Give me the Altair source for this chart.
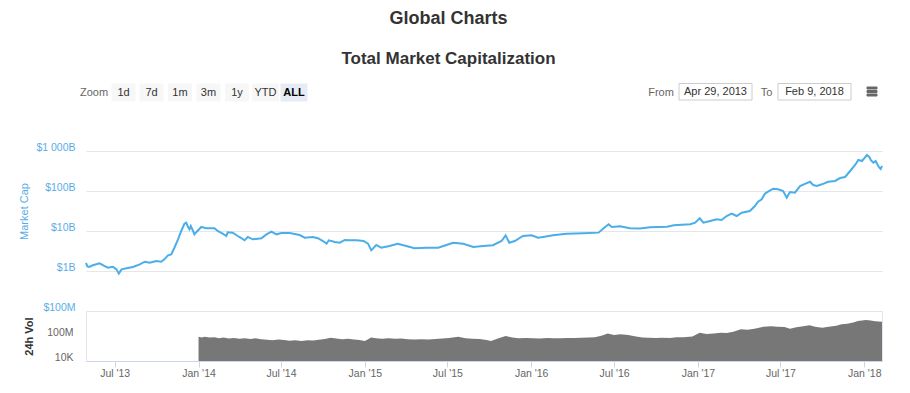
import altair as alt
import pandas as pd

FONT = "Liberation Sans"

# ---- Total market capitalization ($ billions) ----
mc_dates = [
    "2013-04-29", "2013-05-02", "2013-05-06", "2013-05-14", "2013-05-29", "2013-06-09", "2013-06-16",
    "2013-06-27", "2013-07-05", "2013-07-10", "2013-07-16", "2013-07-27", "2013-08-10", "2013-08-25",
    "2013-09-05", "2013-09-16", "2013-09-30", "2013-10-11", "2013-10-18", "2013-10-26", "2013-11-02",
    "2013-11-09", "2013-11-17", "2013-11-24", "2013-12-01", "2013-12-05", "2013-12-09", "2013-12-12",
    "2013-12-15", "2013-12-20", "2013-12-23", "2013-12-28", "2014-01-07", "2014-01-18", "2014-02-05",
    "2014-02-12", "2014-02-23", "2014-03-03", "2014-03-06", "2014-03-17", "2014-03-28", "2014-04-05",
    "2014-04-12", "2014-04-19", "2014-04-30", "2014-05-19", "2014-05-30", "2014-06-10", "2014-06-21",
    "2014-07-02", "2014-07-20", "2014-08-11", "2014-08-22", "2014-09-09", "2014-09-20", "2014-10-01",
    "2014-10-09", "2014-10-14", "2014-10-27", "2014-11-07", "2014-11-18", "2014-11-29", "2014-12-14",
    "2014-12-29", "2015-01-08", "2015-01-15", "2015-01-26", "2015-02-06", "2015-02-24", "2015-03-14",
    "2015-04-02", "2015-04-20", "2015-05-16", "2015-06-11", "2015-06-29", "2015-07-14", "2015-08-05",
    "2015-08-27", "2015-09-18", "2015-10-09", "2015-10-28", "2015-11-06", "2015-11-14", "2015-11-26",
    "2015-12-14", "2016-01-02", "2016-01-16", "2016-01-27", "2016-02-18", "2016-03-19", "2016-04-25",
    "2016-05-28", "2016-06-08", "2016-06-19", "2016-06-26", "2016-07-14", "2016-08-05", "2016-08-27",
    "2016-09-18", "2016-10-25", "2016-11-09", "2016-12-15", "2016-12-26", "2017-01-05", "2017-01-13",
    "2017-01-28", "2017-02-11", "2017-02-22", "2017-03-05", "2017-03-16", "2017-03-27", "2017-04-07",
    "2017-04-25", "2017-05-06", "2017-05-13", "2017-05-21", "2017-05-28", "2017-06-04", "2017-06-15",
    "2017-06-26", "2017-07-07", "2017-07-15", "2017-07-22", "2017-08-02", "2017-08-13", "2017-08-24",
    "2017-09-04", "2017-09-11", "2017-09-19", "2017-09-30", "2017-10-14", "2017-10-29", "2017-11-09",
    "2017-11-20", "2017-12-01", "2017-12-12", "2017-12-19", "2017-12-27", "2018-01-01", "2018-01-07",
    "2018-01-12", "2018-01-16", "2018-01-21", "2018-01-26", "2018-02-02", "2018-02-06", "2018-02-09",
]
mc_cap_bn = [
    1.6, 1.3, 1.26, 1.39, 1.56, 1.33, 1.21,
    1.28, 1.10, 0.86, 1.10, 1.17, 1.26, 1.47,
    1.71, 1.61, 1.78, 1.71, 1.96, 2.47, 2.61,
    3.82, 6.2, 10.0, 15.2, 16.1, 12.6, 11.0,
    13.3, 10.0, 8.25, 9.6, 12.6, 11.7, 11.7,
    10.0, 8.55, 7.5, 9.3, 9.1, 7.5, 6.6,
    5.85, 7.1, 6.2, 6.6, 8.25, 9.6, 8.25,
    8.9, 8.9, 7.94, 6.8, 7.1, 6.6, 5.62,
    4.82, 5.85, 5.31, 5.1, 5.96, 5.85, 5.85,
    5.62, 4.82, 3.29, 4.47, 3.82, 4.22, 4.82,
    4.22, 3.69, 3.82, 3.82, 4.47, 5.1, 4.82,
    3.98, 4.22, 4.4, 5.62, 7.8, 5.1, 5.62,
    7.5, 7.8, 6.8, 7.1, 7.8, 8.55, 8.75,
    9.1, 11.7, 14.7, 12.6, 13.1, 11.7, 11.6,
    12.4, 12.8, 13.9, 14.7, 16.1, 20.8, 16.1,
    17.8, 19.6, 18.8, 23.7, 27.1, 23.7, 28.7,
    31.6, 42.2, 54.2, 62.2, 85.8, 96.2, 114,
    110, 100, 68.1, 94.4, 90.7, 133, 151,
    170, 141, 133, 147, 170, 178, 211,
    224, 316, 447, 596, 562, 657, 794,
    708, 583, 508, 562, 398, 357, 422,
]

# ---- 24h volume ($ millions) ----
vol_dates = [
    "2014-01-01", "2014-01-08", "2014-01-15", "2014-01-25", "2014-02-05", "2014-02-15", "2014-02-25",
    "2014-03-08", "2014-03-20", "2014-04-01", "2014-04-12", "2014-04-25", "2014-05-06", "2014-05-18",
    "2014-06-01", "2014-06-12", "2014-06-25", "2014-07-08", "2014-07-20", "2014-08-01", "2014-08-15",
    "2014-08-28", "2014-09-10", "2014-09-22", "2014-10-05", "2014-10-18", "2014-10-30", "2014-11-12",
    "2014-11-25", "2014-12-08", "2014-12-20", "2015-01-01", "2015-01-15", "2015-01-25", "2015-02-08",
    "2015-02-22", "2015-03-08", "2015-03-22", "2015-04-05", "2015-04-20", "2015-05-05", "2015-05-20",
    "2015-06-05", "2015-06-20", "2015-07-05", "2015-07-25", "2015-08-10", "2015-08-25", "2015-09-10",
    "2015-09-25", "2015-10-05", "2015-10-20", "2015-11-06", "2015-11-20", "2015-12-05", "2015-12-20",
    "2016-01-05", "2016-01-20", "2016-02-05", "2016-02-20", "2016-03-05", "2016-03-20", "2016-04-05",
    "2016-04-20", "2016-05-05", "2016-05-20", "2016-06-05", "2016-06-17", "2016-07-01", "2016-07-15",
    "2016-08-01", "2016-08-15", "2016-09-01", "2016-09-15", "2016-10-01", "2016-10-15", "2016-11-01",
    "2016-11-15", "2016-12-01", "2016-12-20", "2017-01-05", "2017-01-20", "2017-02-05", "2017-02-20",
    "2017-03-05", "2017-03-20", "2017-04-05", "2017-04-20", "2017-05-05", "2017-05-25", "2017-06-10",
    "2017-06-25", "2017-07-10", "2017-07-22", "2017-08-05", "2017-08-20", "2017-09-03", "2017-09-15",
    "2017-10-01", "2017-10-15", "2017-11-01", "2017-11-12", "2017-11-25", "2017-12-08", "2017-12-18",
    "2018-01-05", "2018-01-15", "2018-01-25", "2018-02-09",
]
vol_musd = [
    77, 60, 75, 55, 62, 45, 58,
    40, 50, 35, 45, 33, 42, 30,
    25, 20, 27, 22, 18, 20, 16,
    20, 19, 25, 33, 54, 40, 30,
    35, 27, 22, 16, 55, 45, 38,
    45, 35, 40, 30, 27, 30, 27,
    33, 40, 48, 77, 45, 38, 33,
    23, 16, 40, 100, 55, 43, 48,
    43, 40, 48, 43, 45, 50, 48,
    54, 55, 62, 120, 250, 140, 187,
    150, 90, 60, 54, 48, 54, 50,
    62, 65, 80, 340, 200, 250, 340,
    300, 500, 1180, 1000, 1480, 3100, 3500,
    3100, 2800, 1480, 2500, 3500, 5100, 3000,
    2100, 3000, 4500, 7400, 9000, 15000, 25000,
    36000, 30000, 22000, 19400,
]

cap_ticks = [0.1, 1, 10, 100, 1000]
cap_tick_labels = ["$100M", "$1B", "$10B", "$100B", "$1 000B"]
vol_ticks = [0.01, 100]
vol_tick_labels = ["10K", "100M"]
x_tick_months = [(2013, 7), (2014, 1), (2014, 7), (2015, 1), (2015, 7), (2016, 1),
                 (2016, 7), (2017, 1), (2017, 7), (2018, 1)]
zoom_buttons = ["1d", "7d", "1m", "3m", "1y", "YTD", "ALL"]
from_text = "Apr 29, 2013"
to_text = "Feb 9, 2018"
main_title = "Global Charts"
sub_title = "Total Market Capitalization"

mc_df = pd.DataFrame({"date": mc_dates, "cap": mc_cap_bn})
vol_df = pd.DataFrame({"date": vol_dates, "vol": vol_musd})

x_domain = [alt.DateTime(year=2013, month=4, date=29), alt.DateTime(year=2018, month=2, date=9)]
x_values = [alt.DateTime(year=y, month=m, date=1) for y, m in x_tick_months]


def label_expr(vals, labels):
    expr = f"'{labels[-1]}'"
    for v, l in reversed(list(zip(vals[:-1], labels[:-1]))):
        expr = f"datum.value < {v * 3} ? '{l}' : " + expr
    return expr


W, H_TOP, H_VOL = 796, 200, 50
BLUE = "#4aaee8"
LABEL_BLUE = "#58ade6"

line = alt.Chart(mc_df).mark_line(color=BLUE, strokeWidth=2).encode(
    x=alt.X("date:T", scale=alt.Scale(domain=x_domain), axis=None),
    y=alt.Y(
        "cap:Q",
        scale=alt.Scale(type="log", domain=[0.1, 10000]),
        axis=alt.Axis(
            values=cap_ticks,
            labelExpr=label_expr(cap_ticks, cap_tick_labels),
            title="Market Cap",
            titleColor=LABEL_BLUE,
            titleFontSize=11,
            titleFontWeight="normal",
            titleFont=FONT,
            titleX=-62,
            titleY=100,
            titleBaseline="middle",
            labelColor=LABEL_BLUE,
            labelFontSize=10.5,
            labelFont=FONT,
            labelPadding=11,
            labelOffset=-4,
            domain=False,
            ticks=False,
            gridColor="#e6e6e6",
        ),
    ),
)


def one():
    return pd.DataFrame({"t": [0]})


def txt(s, x, y, size=11, color="#666666", weight="normal"):
    return alt.Chart(pd.DataFrame({"t": [s]})).mark_text(
        fontSize=size, color=color, fontWeight=weight, align="center",
        baseline="middle", font=FONT,
    ).encode(x=alt.value(x), y=alt.value(y), text="t:N")


def box(x1, x2, y1, y2, fill, stroke="#ffffff"):
    return alt.Chart(one()).mark_rect(fill=fill, stroke=stroke, strokeWidth=1).encode(
        x=alt.value(x1), x2=alt.value(x2), y=alt.value(y1), y2=alt.value(y2)
    )


ui = []
ui.append(txt(main_title, 362.5, -92, size=18, color="#333333", weight="bold"))
ui.append(txt(sub_title, 362.5, -52, size=17, color="#333333", weight="bold"))
ui.append(txt("Zoom", 8, -18.5, size=11, color="#666666"))
btn_centers = [37.5, 65.5, 94, 122.5, 151, 179.5, 208]
for lab, cx in zip(zoom_buttons, btn_centers):
    active = lab == "ALL"
    half = 13 if len(lab) == 3 else 11.5
    ui.append(box(cx - half, cx + half, -27, -10, "#e6ebf5" if active else "#f7f7f7",
                  stroke="#e6ebf5" if active else "#f7f7f7"))
    ui.append(txt(lab, cx, -18.5, size=11, color="#000000" if active else "#333333",
                  weight="bold" if active else "normal"))
ui.append(txt("From", 575, -18.5, size=11, color="#666666"))
ui.append(box(593, 666, -27.5, -11, "#ffffff", stroke="#cccccc"))
ui.append(txt(from_text, 629.5, -19, size=11, color="#333333"))
ui.append(txt("To", 680.5, -18.5, size=11, color="#666666"))
ui.append(box(692, 765, -27.5, -11, "#ffffff", stroke="#cccccc"))
ui.append(txt(to_text, 728.5, -19, size=11, color="#333333"))
for yy in (-23, -19.5, -16):
    ui.append(box(781, 791, yy - 1, yy + 1, "#666666", stroke="#666666"))

top = alt.layer(line, *ui).properties(
    width=W, height=H_TOP, view=alt.ViewBackground(stroke="transparent", strokeWidth=0)
)

vol = alt.Chart(vol_df).mark_area(color="#777777", interpolate="linear").encode(
    x=alt.X(
        "date:T",
        scale=alt.Scale(domain=x_domain),
        axis=alt.Axis(
            values=x_values,
            format="%b '%y",
            title=None,
            labelColor="#666666",
            labelFontSize=10.5,
            labelFont=FONT,
            tickColor="#ccd6eb",
            domainColor="#ccd6eb",
            tickSize=6,
            labelPadding=1,
            grid=False,
        ),
    ),
    y=alt.Y(
        "vol:Q",
        scale=alt.Scale(type="log", domain=[0.01, 1000000]),
        axis=alt.Axis(
            values=vol_ticks,
            labelExpr=label_expr(vol_ticks, vol_tick_labels),
            title="24h Vol",
            titleColor="#333333",
            titleFontSize=11,
            titleFontWeight="bold",
            titleFont=FONT,
            titleX=-57,
            titleY=25,
            titleBaseline="middle",
            labelColor="#666666",
            labelFontSize=10.5,
            labelFont=FONT,
            labelPadding=13,
            labelOffset=-3.5,
            domain=False,
            ticks=False,
            grid=False,
        ),
    ),
    y2=alt.datum(0.01),
).properties(width=W, height=H_VOL, view=alt.ViewBackground(stroke="#dfe6f0", strokeWidth=1))

chart = alt.vconcat(top, vol, spacing=0, bounds="flush").properties(
    padding={"left": 10, "top": 2, "right": 5, "bottom": 5},
    background="#ffffff",
).configure_view(stroke="transparent", strokeWidth=0)

chart.save("out.html", embed_options={"renderer": "svg", "actions": False})
